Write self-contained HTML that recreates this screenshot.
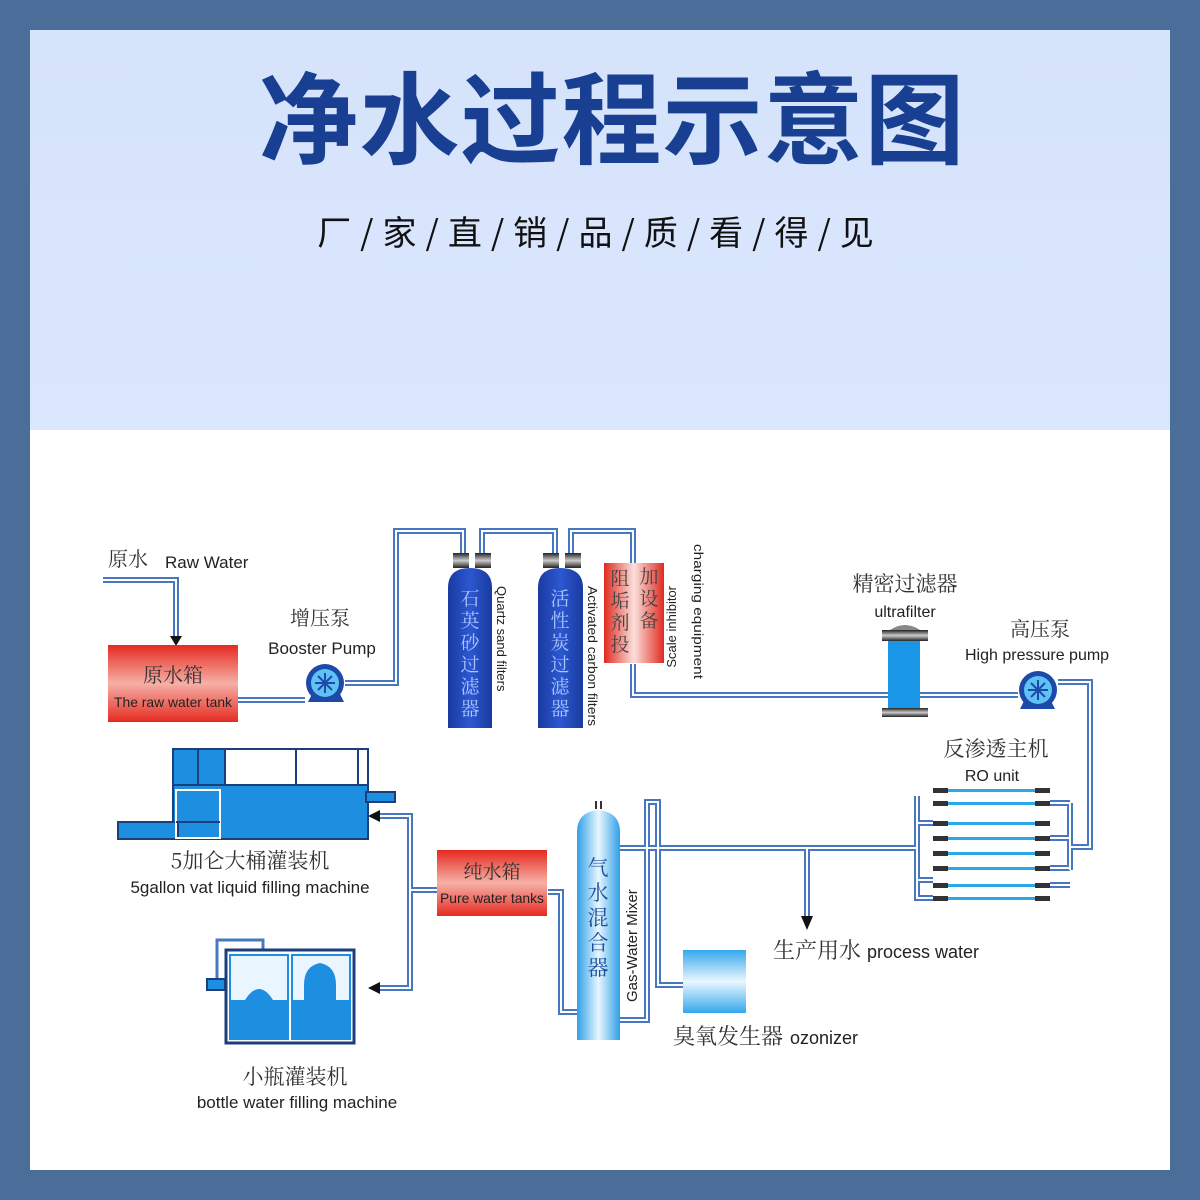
<!DOCTYPE html>
<html><head><meta charset="utf-8"><style>
html,body{margin:0;padding:0;width:1200px;height:1200px;overflow:hidden;background:#4a6d9a;}
.panel{position:absolute;left:30px;top:30px;width:1140px;height:1140px;background:#fff;}
.top{position:absolute;left:0;top:0;width:1140px;height:400px;background:linear-gradient(#d5e3fb,#dbe7fc);}
.title{position:absolute;left:12px;top:28px;width:1140px;text-align:center;font:bold 100px "Noto Sans CJK SC",sans-serif;color:#183f91;letter-spacing:1px;line-height:110px;}
.sub{position:absolute;left:0;top:176px;width:1140px;text-align:center;font:34px "Noto Sans CJK SC",sans-serif;color:#111;line-height:50px;letter-spacing:9px;}
svg{position:absolute;left:0;top:0;}
</style></head><body>
<div class="panel"><div class="top"></div>
<div class="title">净水过程示意图</div>
<div class="sub">厂/家/直/销/品/质/看/得/见</div>
</div>
<svg width="1200" height="1200" viewBox="0 0 1200 1200" font-family="Liberation Sans, Noto Sans CJK SC, sans-serif">
<defs>
<linearGradient id="red" x1="0" y1="0" x2="0" y2="1"><stop offset="0" stop-color="#e62a20"/><stop offset="0.5" stop-color="#f6b0a6"/><stop offset="1" stop-color="#e62a20"/></linearGradient>
<linearGradient id="redh" x1="0" y1="0" x2="1" y2="0"><stop offset="0" stop-color="#e02a20"/><stop offset="0.5" stop-color="#fbe0dc"/><stop offset="1" stop-color="#e02a20"/></linearGradient>
<linearGradient id="navy" x1="0" y1="0" x2="1" y2="0"><stop offset="0" stop-color="#1a3aa0"/><stop offset="0.5" stop-color="#2c58d0"/><stop offset="1" stop-color="#1a3aa0"/></linearGradient>
<linearGradient id="sky" x1="0" y1="0" x2="1" y2="0"><stop offset="0" stop-color="#30a0e8"/><stop offset="0.5" stop-color="#e8f6ff"/><stop offset="1" stop-color="#30a0e8"/></linearGradient>
<linearGradient id="oz" x1="0" y1="0" x2="0" y2="1"><stop offset="0" stop-color="#35a8ec"/><stop offset="0.5" stop-color="#eaf7ff"/><stop offset="1" stop-color="#35a8ec"/></linearGradient>
<linearGradient id="cap" x1="0" y1="0" x2="0" y2="1"><stop offset="0" stop-color="#222"/><stop offset="0.5" stop-color="#ccc"/><stop offset="1" stop-color="#222"/></linearGradient>
</defs>
<path d="M103 580H176V638 M238 700H305 M345 683H396V531H463V556 M482 556V531H555V556 M571 556V531H633V566 M633 664V695H1018 M1058 682H1090V847H1070 M917 848H620 M807 848V918 M548 892H561V1012H577 M746 985H658V802H647V1020H620 M437 890H410V816H378 M410 890V988H378 M917 796V859 M917 823H933 M917 838V880H933 M917 868V898H933 M1070 803V870 M1050 803H1070 M1050 838H1070 M1050 868H1070 M1050 885H1070" fill="none" stroke="#4677c0" stroke-width="6"/>
<path d="M103 580H176V638 M238 700H305 M345 683H396V531H463V556 M482 556V531H555V556 M571 556V531H633V566 M633 664V695H1018 M1058 682H1090V847H1070 M917 848H620 M807 848V918 M548 892H561V1012H577 M746 985H658V802H647V1020H620 M437 890H410V816H378 M410 890V988H378 M917 796V859 M917 823H933 M917 838V880H933 M917 868V898H933 M1070 803V870 M1050 803H1070 M1050 838H1070 M1050 868H1070 M1050 885H1070" fill="none" stroke="#fff" stroke-width="2"/>
<path d="M170 636L182 636L176 646Z M801 916L813 916L807 930Z M380 810L380 822L368 816Z M380 982L380 994L368 988Z" fill="#111"/>
<rect x="108" y="645" width="130" height="77" fill="url(#red)"/>
<text x="173" y="682" font-size="20" text-anchor="middle" fill="#333" font-family="Noto Serif CJK SC, serif">原水箱</text>
<text x="173" y="707" font-size="14" text-anchor="middle" fill="#222" textLength="118" lengthAdjust="spacingAndGlyphs">The raw water tank</text>
<text x="108" y="566" font-size="20" fill="#333" font-family="Noto Serif CJK SC, serif">原水</text>
<text x="165" y="568" font-size="17" fill="#222">Raw Water</text>
<path d="M308 702H344L338 690H314Z" fill="#1d4aa8"/>
<circle cx="325" cy="683" r="19" fill="#1d4aa8"/><circle cx="325" cy="683" r="14" fill="#5ec2f4"/>
<g stroke="#1d4aa8" stroke-width="2"><path d="M315 683H335M325 673V693M318 676L332 690M332 676L318 690"/></g>
<text x="320" y="625" font-size="20" text-anchor="middle" fill="#333" font-family="Noto Serif CJK SC, serif">增压泵</text>
<text x="322" y="654" font-size="17" text-anchor="middle" fill="#222">Booster Pump</text>
<rect x="453" y="553" width="16" height="15" fill="url(#cap)"/><rect x="475" y="553" width="16" height="15" fill="url(#cap)"/>
<path d="M448 728V588Q448 568 470 568Q492 568 492 588V728Z" fill="url(#navy)"/>
<rect x="543" y="553" width="16" height="15" fill="url(#cap)"/><rect x="565" y="553" width="16" height="15" fill="url(#cap)"/>
<path d="M538 728V588Q538 568 560 568Q583 568 583 588V728Z" fill="url(#navy)"/>
<g font-size="19" fill="#aac4ff" text-anchor="middle" font-family="Noto Serif CJK SC, serif">
<text x="470" y="605">石</text><text x="470" y="627">英</text><text x="470" y="649">砂</text><text x="470" y="671">过</text><text x="470" y="693">滤</text><text x="470" y="715">器</text>
<text x="560" y="605">活</text><text x="560" y="627">性</text><text x="560" y="649">炭</text><text x="560" y="671">过</text><text x="560" y="693">滤</text><text x="560" y="715">器</text>
</g>
<g font-size="13" fill="#222">
<text transform="translate(497,586) rotate(90)">Quartz sand filters</text>
<text transform="translate(588,586) rotate(90)" textLength="140" lengthAdjust="spacingAndGlyphs">Activated carbon filters</text>
<text transform="translate(676,586) rotate(-90)" text-anchor="end">Scale inhibitor</text>
<text transform="translate(694,544) rotate(90)" textLength="135" lengthAdjust="spacingAndGlyphs">charging equipment</text>
</g>
<rect x="604" y="563" width="60" height="100" fill="url(#redh)"/>
<g font-size="19" fill="#444" text-anchor="middle" font-family="Noto Serif CJK SC, serif">
<text x="620" y="585">阻</text><text x="620" y="607">垢</text><text x="620" y="629">剂</text><text x="620" y="651">投</text>
<text x="649" y="583">加</text><text x="649" y="605">设</text><text x="649" y="627">备</text>
</g>
<rect x="888" y="640" width="32" height="70" fill="#1a96e6"/>
<path d="M882 630H928V641H882Z" fill="url(#cap)"/><path d="M890 630Q905 620 920 630Z" fill="#888"/>
<rect x="882" y="708" width="46" height="9" fill="url(#cap)"/>
<text x="905" y="591" font-size="21" text-anchor="middle" fill="#333" font-family="Noto Serif CJK SC, serif">精密过滤器</text>
<text x="905" y="617" font-size="16" text-anchor="middle" fill="#222">ultrafilter</text>
<path d="M1020 709H1055L1049 697H1026Z" fill="#1d4aa8"/>
<circle cx="1038" cy="690" r="19" fill="#1d4aa8"/><circle cx="1038" cy="690" r="14" fill="#5ec2f4"/>
<g stroke="#1d4aa8" stroke-width="2"><path d="M1028 690H1048M1038 680V700M1031 683L1045 697M1045 683L1031 697"/></g>
<text x="1040" y="636" font-size="20" text-anchor="middle" fill="#333" font-family="Noto Serif CJK SC, serif">高压泵</text>
<text x="965" y="660" font-size="16" fill="#222">High pressure pump</text>
<text x="996" y="756" font-size="21" text-anchor="middle" fill="#333" font-family="Noto Serif CJK SC, serif">反渗透主机</text>
<text x="992" y="781" font-size="16" text-anchor="middle" fill="#222">RO unit</text>
<g>
<g id="t"><rect x="933" y="788" width="15" height="5" fill="#333"/><rect x="948" y="789" width="87" height="3" fill="#2aa8e8"/><rect x="1035" y="788" width="15" height="5" fill="#333"/></g>
<use href="#t" y="13"/><use href="#t" y="33"/><use href="#t" y="48"/><use href="#t" y="63"/><use href="#t" y="78"/><use href="#t" y="95"/><use href="#t" y="108"/>
</g>
<path d="M577 1040V832Q577 812 598 810Q620 812 620 832V1040Z" fill="url(#sky)"/>
<rect x="595" y="801" width="2" height="8" fill="#333"/><rect x="600" y="801" width="2" height="8" fill="#333"/>
<g font-size="21" fill="#1a4c9c" text-anchor="middle" font-family="Noto Serif CJK SC, serif">
<text x="598" y="875">气</text><text x="598" y="900">水</text><text x="598" y="925">混</text><text x="598" y="950">合</text><text x="598" y="975">器</text>
</g>
<text transform="translate(637,1002) rotate(-90)" font-size="15" fill="#222">Gas-Water Mixer</text>
<rect x="683" y="950" width="63" height="63" fill="url(#oz)"/>
<text x="673" y="1044" font-size="22" fill="#333" font-family="Noto Serif CJK SC, serif">臭氧发生器</text>
<text x="790" y="1044" font-size="18" fill="#222">ozonizer</text>
<text x="773" y="958" font-size="22" fill="#333" font-family="Noto Serif CJK SC, serif">生产用水</text>
<text x="867" y="958" font-size="18" fill="#222">process water</text>
<rect x="437" y="850" width="110" height="66" fill="url(#red)"/>
<text x="492" y="878" font-size="19" text-anchor="middle" fill="#333" font-family="Noto Serif CJK SC, serif">纯水箱</text>
<text x="492" y="903" font-size="14" text-anchor="middle" fill="#222" textLength="104" lengthAdjust="spacingAndGlyphs">Pure water tanks</text>
<g stroke="#1b3f7a" stroke-width="2">
<rect x="173" y="749" width="195" height="36" fill="#fff"/>
<rect x="173" y="749" width="25" height="36" fill="#1e8ee0"/><rect x="198" y="749" width="27" height="36" fill="#1e8ee0"/>
<rect x="173" y="785" width="195" height="54" fill="#1e8ee0"/>
<rect x="118" y="822" width="60" height="17" fill="#1e8ee0"/>
<rect x="366" y="792" width="29" height="10" fill="#1e8ee0"/>
<line x1="296" y1="749" x2="296" y2="785"/><line x1="358" y1="749" x2="358" y2="785"/>
</g>
<rect x="176" y="790" width="44" height="48" fill="none" stroke="#fff" stroke-width="2"/><line x1="176" y1="822" x2="220" y2="822" stroke="#1b3f7a" stroke-width="2"/>
<text x="250" y="868" font-size="21" text-anchor="middle" fill="#333" font-family="Noto Serif CJK SC, serif">5加仑大桶灌装机</text>
<text x="250" y="893" font-size="17" text-anchor="middle" fill="#222">5gallon vat liquid filling machine</text>
<path d="M217 982V940H263V950" fill="none" stroke="#4677c0" stroke-width="3"/>
<rect x="207" y="979" width="18" height="11" fill="#1e8ee0" stroke="#1b3f7a" stroke-width="2"/>
<rect x="226" y="950" width="128" height="93" fill="#fff" stroke="#1b3f7a" stroke-width="3"/>
<rect x="230" y="955" width="58" height="84" fill="#eaf6ff" stroke="#1e8ee0" stroke-width="2"/>
<rect x="292" y="955" width="58" height="84" fill="#eaf6ff" stroke="#1e8ee0" stroke-width="2"/>
<rect x="230" y="1000" width="58" height="39" fill="#1e8ee0"/><rect x="292" y="1000" width="58" height="39" fill="#1e8ee0"/>
<path d="M245 1000Q259 978 273 1000Z" fill="#1e8ee0"/><path d="M304 1000V985Q304 966 320 963Q336 966 336 985V1000Z" fill="#1e8ee0"/>
<text x="295" y="1084" font-size="21" text-anchor="middle" fill="#333" font-family="Noto Serif CJK SC, serif">小瓶灌装机</text>
<text x="297" y="1108" font-size="17" text-anchor="middle" fill="#222">bottle water filling machine</text>
</svg>
</body></html>
